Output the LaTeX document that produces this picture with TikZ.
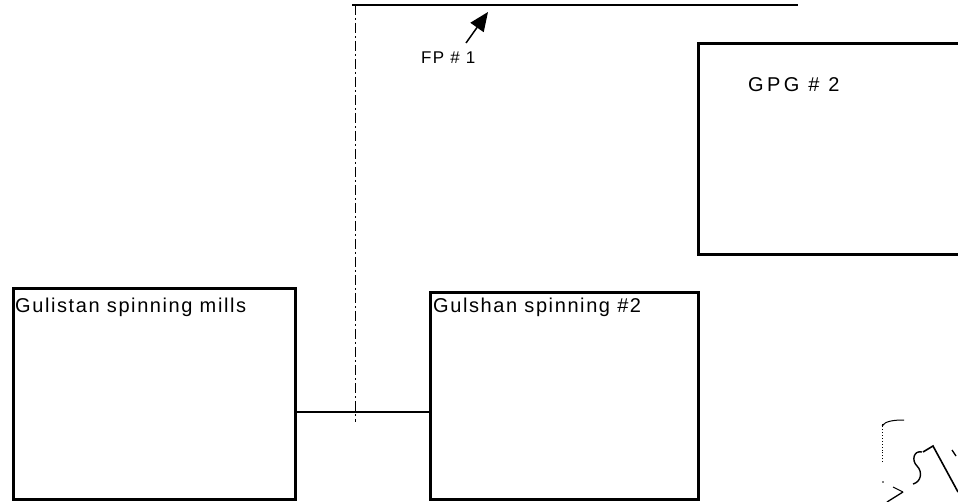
\documentclass[tikz,border=0pt]{standalone}
\usepackage{fontspec}
\newfontfamily\lbl{Liberation Sans}[LetterSpace=8]
\newfontfamily\lblw{Liberation Sans}[LetterSpace=17]
\newfontfamily\lbln{Liberation Sans}[LetterSpace=8]
\usetikzlibrary{arrows.meta}
\begin{document}
\begin{tikzpicture}[x=1pt,y=-1pt,
  boxnode/.style={draw=black, line width=2.8pt, inner sep=0pt, anchor=north west},
  txt/.style={inner sep=0pt, anchor=base west, font=\lbl\fontsize{20}{24}\selectfont},
  wire/.style={line width=1.4pt},
  dashwire/.style={line width=0.8pt, dash pattern=on 10pt off 3pt on 2pt off 3pt}]
\useasboundingbox (0,0) rectangle (958,502);
\clip (0,0) rectangle (958,502);
% boxes
\node[boxnode, minimum width=282pt, minimum height=211pt] (gul) at (12,287) {};
\node[boxnode, minimum width=268pt, minimum height=207pt] (gsh) at (429,291) {};
\node[boxnode, minimum width=275pt, minimum height=211pt] (gpg) at (697,42) {};
% labels
\node[txt] (tgul) at (15,313) {Gulistan spinning mills};
\node[txt] (tgsh) at (433,313) {Gulshan spinning \#2};
\node[txt, font=\lblw\fontsize{20}{24}\selectfont] (tgpg) at (748,92) {GPG \# 2};
\node[txt, font=\lbln\fontsize{17}{20}\selectfont] (tfp) at (421,64) {FP \# 1};
% top line and vertical
\coordinate (tl) at (352,5);
\coordinate (tr) at (798,5);
\coordinate (vt) at (355,5);
\coordinate (vb) at (355,422);
\coordinate (j) at (355,412);
\draw[wire] (tl) -- (tr);
\draw[dashwire] (vt) -- (vb);
\draw[wire] (gul.east |- j) -- (gsh.west |- j);
% FP arrow
\coordinate (at) at (466,43);
\coordinate (ah) at (488,12);
\draw[line width=1.5pt, -{Triangle[length=19pt,width=16pt]}] (at) -- (ah);
% handwritten scribble
\draw[line width=0.9pt, dotted] (882,462) -- (882,424);
\draw[line width=1pt] (882,426) .. controls (885,421) and (894,420) .. (904,420);
\fill (883,482) circle (0.9pt);
\draw[line width=1pt] (893,487) -- (903,492);
\draw[line width=1.3pt] (887,502) -- (903,492);
\draw[line width=1.4pt] (922,452) .. controls (914,450) and (911,460) .. (917,466)
  .. controls (923,472) and (921,482) .. (913,484);
\draw[line width=1.6pt] (923,452) -- (933,446) -- (958,492);
\draw[line width=1.3pt] (952,450) -- (956,456);
\end{tikzpicture}
\end{document}
